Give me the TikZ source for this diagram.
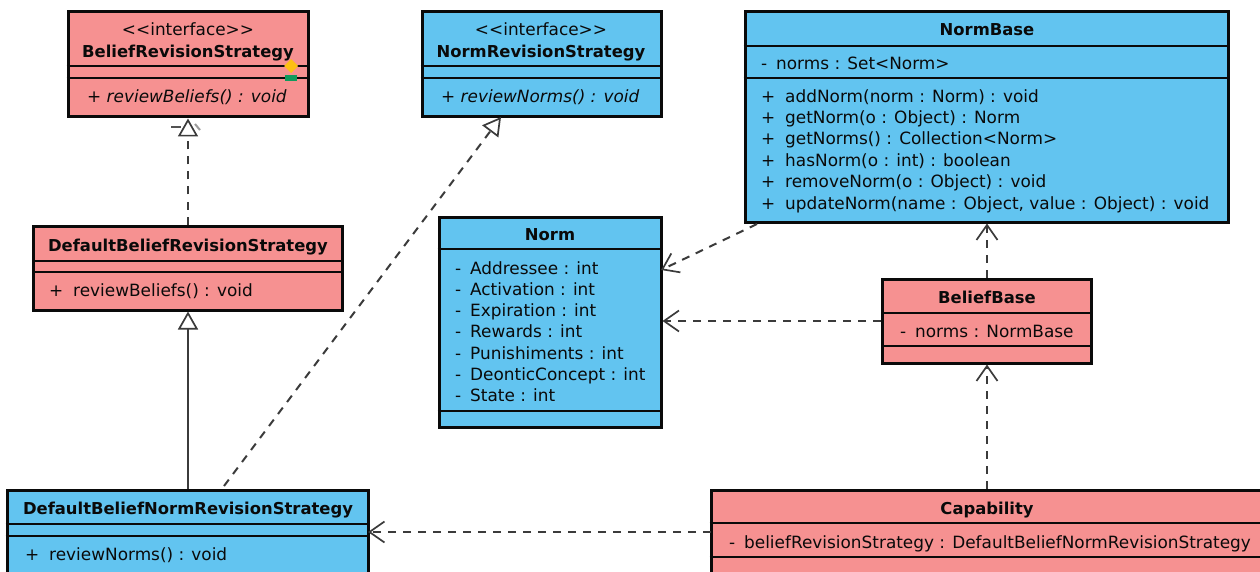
\documentclass[tikz,border=0pt]{standalone}
\usepackage{fontspec}
\setmainfont[Ligatures=NoCommon]{DejaVu Sans}
\usetikzlibrary{arrows.meta,calc}
\definecolor{salmon}{HTML}{F69191}
\definecolor{skyb}{HTML}{62C4F0}
\definecolor{ink}{HTML}{0A0A0A}
\definecolor{flagy}{HTML}{FDBF12}
\definecolor{flagg}{HTML}{0F9A5C}
\newcommand{\umlbox}[6]{% name x1 y1 x2 y2 fill
  \node[umlclass,fill=#6,minimum width={(#4-#2)*1pt},minimum height={(#5-#3)*1pt}] (#1) at ({(#2+#4)/2},{(#3+#5)/2}) {};}
\newcommand{\sepline}[2]{\draw[sep] (#1.west |- 0,#2) -- (#1.east |- 0,#2);}
\newcommand{\priv}{-\kern3.5pt\ }
\newcommand{\pub}{+\kern4.5pt\ }
\tikzset{
  umlclass/.style={draw=ink,line width=3pt,inner sep=0pt,outer sep=1.5pt},
  sep/.style={draw=ink,line width=1.5pt},
  txt/.style={font=\fontsize{16.9}{18}\selectfont,text=ink,inner sep=0pt,anchor=base},
  ttl/.style={txt,font=\fontsize{16.4}{18}\selectfont\bfseries},
  mem/.style={txt,anchor=base west},
  imem/.style={mem,font=\fontsize{16.9}{18}\selectfont\itshape},
  dep/.style={draw=ink!80,line width=2pt,dash pattern=on 8pt off 7pt},
  open/.style={-{Straight Barb[length=15pt,width=21pt,line width=1.7pt]}},
  tri/.style={-{Triangle[open,length=18pt,width=20pt,line width=1.7pt,fill=white]}},
}
\begin{document}
\begin{tikzpicture}[x=1pt,y=-1pt]
\useasboundingbox (0,0) rectangle (1260,572);
\clip (0,0) rectangle (1260,572);
\umlbox{brs}{68}{12}{308}{117}{salmon}
\umlbox{nrs}{422}{12}{661}{117}{skyb}
\umlbox{nb}{745}{12}{1228}{222}{skyb}
\umlbox{norm}{439}{217}{661}{427}{skyb}
\umlbox{dbrs}{33.5}{226}{342.5}{310}{salmon}
\umlbox{bb}{882.5}{279}{1091.5}{363}{salmon}
\umlbox{dbnrs}{7}{490}{368}{590}{skyb}
\umlbox{cap}{711}{490}{1275}{590}{salmon}
\sepline{brs}{66} \sepline{brs}{78}
\sepline{nrs}{66} \sepline{nrs}{78}
\sepline{nb}{46} \sepline{nb}{78}
\sepline{norm}{249} \sepline{norm}{411}
\sepline{dbrs}{261} \sepline{dbrs}{272}
\sepline{bb}{313} \sepline{bb}{346}
\sepline{dbnrs}{524} \sepline{dbnrs}{536}
\sepline{cap}{523} \sepline{cap}{557}
\node[txt] (t1) at (188,36) {{<}{<}interface{>}{>}};
\node[ttl] (t2) at (188,58) {BeliefRevisionStrategy};
\node[imem] (t3) at (87,103) {+ reviewBeliefs() : void};
\node[txt] (t4) at (541,36) {{<}{<}interface{>}{>}};
\node[ttl] (t5) at (541,58) {NormRevisionStrategy};
\node[imem] (t6) at (441,103) {+ reviewNorms() : void};
\node[ttl] (t7) at (987,36) {NormBase};
\node[mem] (t8) at (761,70) {\priv norms : Set<Norm>};
\node[mem] (t9) at (761,103) {\pub addNorm(norm : Norm) : void};
\node[mem] (t10) at (761,124) {\pub getNorm(o : Object) : Norm};
\node[mem] (t11) at (761,145) {\pub getNorms() : Collection<Norm>};
\node[mem] (t12) at (761,167) {\pub hasNorm(o : int) : boolean};
\node[mem] (t13) at (761,188) {\pub removeNorm(o : Object) : void};
\node[mem] (t14) at (761,209) {\pub updateNorm(name : Object, value : Object) : void};
\node[ttl] (t15) at (550,240) {Norm};
\node[mem] (t16) at (455,274) {\priv Addressee : int};
\node[mem] (t17) at (455,295) {\priv Activation : int};
\node[mem] (t18) at (455,316) {\priv Expiration : int};
\node[mem] (t19) at (455,337) {\priv Rewards : int};
\node[mem] (t20) at (455,359) {\priv Punishiments : int};
\node[mem] (t21) at (455,380) {\priv DeonticConcept : int};
\node[mem] (t22) at (455,401) {\priv State : int};
\node[ttl] (t23) at (188,251) {DefaultBeliefRevisionStrategy};
\node[mem] (t24) at (49,296) {\pub reviewBeliefs() : void};
\node[ttl] (t25) at (987,303) {BeliefBase};
\node[mem] (t26) at (900,337) {\priv norms : NormBase};
\node[ttl] (t27) at (188,514) {DefaultBeliefNormRevisionStrategy};
\node[mem] (t28) at (25,560) {\pub reviewNorms() : void};
\node[ttl] (t29) at (987,514) {Capability};
\node[mem] (t30) at (729,548) {\priv beliefRevisionStrategy : DefaultBeliefNormRevisionStrategy};
% icons on the first box
\fill[flagy] (291,59) -- (298,66) -- (291,73) -- (284,66) -- cycle;
\fill[flagg] (285,75) rectangle (297,81);
\draw[ink!70,line width=1.2pt] (171,127) -- (181,127);
\draw[ink!40,line width=2pt] (195,124) -- (200,130);
% connectors
\coordinate (a1) at (224,486);
\coordinate (a2) at (501,117);
\coordinate (a3) at (757,224);
\coordinate (a4) at (661,270);
\coordinate (a5) at (711,532);
\coordinate (a6) at (368,532);
\draw[dep,tri] (dbrs.north) -- (brs.south -| dbrs.north);
\draw[draw=ink!80,line width=2pt,tri] (dbnrs.north -| dbrs.south) -- (dbrs.south);
\draw[dep,tri] (a1) -- (a2);
\draw[dep,open] (a3) -- (a4);
\draw[dep,open] (bb.west) -- (bb.west -| norm.east);
\draw[dep,open] (bb.north) -- (bb.north |- nb.south);
\draw[dep,open] (bb.south |- cap.north) -- (bb.south);
\draw[dep,open] (a5) -- (a6);
\end{tikzpicture}
\end{document}
